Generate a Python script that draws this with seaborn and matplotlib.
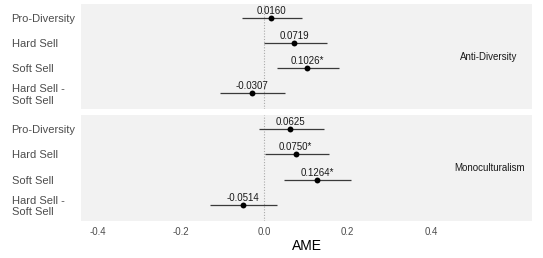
import matplotlib
matplotlib.use("Agg")
import matplotlib.pyplot as plt
import seaborn as sns
import pandas as pd
import numpy as np

sns.set_theme(style="white")
plt.rcParams['font.family'] = ['Liberation Sans', 'DejaVu Sans']

categories = ["Pro-Diversity", "Hard Sell", "Soft Sell", "Hard Sell -\nSoft Sell"]
panels = ["Anti-Diversity", "Monoculturalism"]
ame_anti = [0.0160, 0.0719, 0.1026, -0.0307]
lo_anti = [-0.055, -0.002, 0.029, -0.108]
hi_anti = [0.091, 0.151, 0.180, 0.050]
lab_anti = ["0.0160", "0.0719", "0.1026*", "-0.0307"]
ame_mono = [0.0625, 0.0750, 0.1264, -0.0514]
lo_mono = [-0.012, 0.002, 0.048, -0.130]
hi_mono = [0.142, 0.154, 0.209, 0.029]
lab_mono = ["0.0625", "0.0750*", "0.1264*", "-0.0514"]
xticks = [-0.4, -0.2, 0.0, 0.2, 0.4]

frames = []
for p, a, l, h, t in [(panels[0], ame_anti, lo_anti, hi_anti, lab_anti),
                      (panels[1], ame_mono, lo_mono, hi_mono, lab_mono)]:
    frames.append(pd.DataFrame({"panel": p, "cat": categories, "pos": range(4),
                                "ame": a, "lo": l, "hi": h, "label": t}))
df = pd.concat(frames, ignore_index=True)

W, H = 543, 258
fig = plt.figure(figsize=(W / 100, H / 100), dpi=100)
left = 81 / W
width = 451 / W
boxes = [(4, 109), (115, 221)]
axes = []
for (top, bot) in boxes:
    ax = fig.add_axes([left, 1 - bot / H, width, (bot - top) / H])
    axes.append(ax)

for ax, p in zip(axes, panels):
    d = df[df.panel == p]
    ax.set_facecolor("#F2F2F2")
    for s in ax.spines.values():
        s.set_visible(False)
    ax.axvline(0, color="#AAAAAA", lw=0.8, ls=(0, (1, 1.5)), zorder=1)
    ax.hlines(d["pos"], d["lo"], d["hi"], color="#3A3A3A", lw=0.9, zorder=2)
    sns.scatterplot(data=d, x="ame", y="pos", ax=ax, color="black", s=18,
                    edgecolor="black", linewidth=0, zorder=3, legend=False)
    for _, r in d.iterrows():
        ax.annotate(r["label"], (r["ame"], r["pos"]), xytext=(0, 1.5),
                    textcoords="offset points", ha="center", va="bottom",
                    fontsize=7, color="#1A1A1A", zorder=4)
    ax.set_xlim(-0.441, 0.643)
    ax.set_ylim(3.64, -0.56)
    ax.set_yticks(range(4))
    ax.set_yticklabels(categories, fontsize=8, color="#4D4D4D", ha="left")
    ax.tick_params(axis="y", length=0, pad=50)
    ax.set_xticks(xticks)
    ax.tick_params(axis="x", length=0, pad=4)
    ax.set_ylabel("")
    ax.set_xlabel("")
    ax.text(0.54, 1.55, p, fontsize=7, color="#1A1A1A", ha="center", va="center")

axes[0].set_xticklabels([])
axes[1].set_xticklabels(["-0.4", "-0.2", "0.0", "0.2", "0.4"], fontsize=7, color="#4D4D4D")
axes[1].set_xlabel("AME", fontsize=10, color="black", labelpad=2)

fig.savefig("out.png", dpi=100, facecolor="white")
